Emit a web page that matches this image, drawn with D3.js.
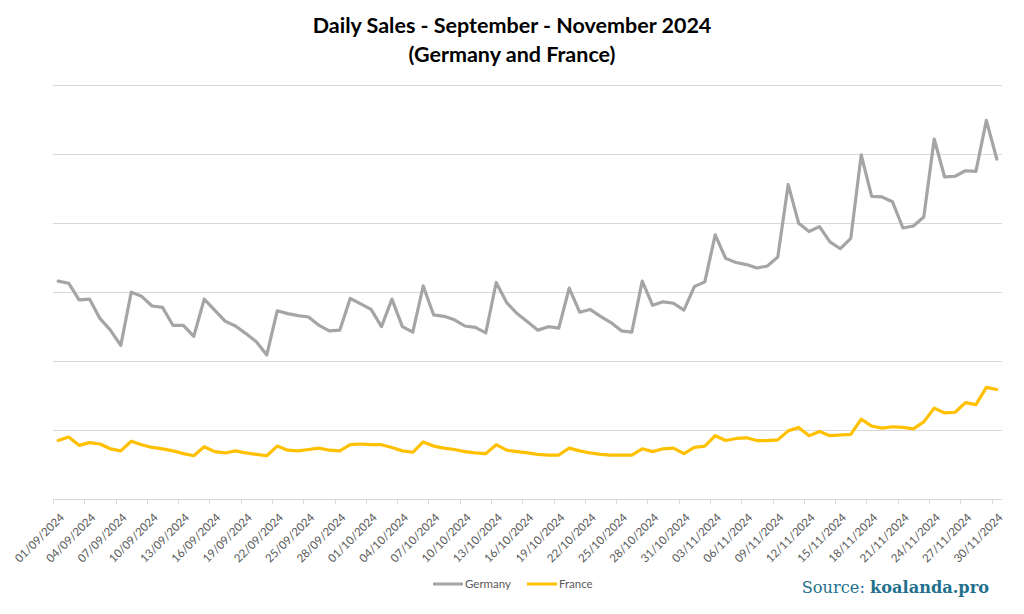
<!DOCTYPE html>
<html><head><meta charset="utf-8">
<script src="https://cdn.jsdelivr.net/npm/d3@7"></script>
<style>body{margin:0;background:#fff}svg{display:block}</style>
</head><body>
<script>
const startDate = "2024-09-01";
const dayCount = 91;
const germany = [315,312,288,289,261,244,222,299,293,279,277,251,251,235,289,273,257,250,239,227,208,272,268,265,263,251,243,244,290,282,
274,249,289,249,241,308,266,264,259,250,248,240,313,284,268,256,244,249,247,305,270,274,264,255,243,241,315,280,285,283,
273,307,314,382,348,342,339,334,337,350,455,399,387,394,372,362,377,498,438,437,430,392,395,408,521,466,467,475,474,548,492];
const france = [84,89,77,81,79,72,69,83,78,74,72,69,65,62,75,68,66,69,66,64,62,76,70,69,71,73,70,69,78,79,
78,78,74,69,67,82,76,73,71,68,66,65,78,70,68,66,64,63,63,73,69,66,64,63,63,63,72,68,72,73,
65,74,76,91,84,87,88,84,84,85,98,103,91,97,91,92,93,115,105,102,104,103,101,111,131,124,125,139,136,161,158];
const yTicks = [0,100,200,300,400,500,600];
const seriesNames = ["Germany","France"];
const seriesColors = ["#a5a5a5","#ffc000"];

const W=1024,H=614;
const svg=d3.select("body").append("svg").attr("width",W).attr("height",H);
const parse=d3.timeParse("%Y-%m-%d");
const fmt=d3.timeFormat("%d/%m/%Y");
const dates=d3.range(dayCount).map(i=>d3.timeDay.offset(parse(startDate),i));
const labels=dates.map(fmt);

const x=d3.scaleBand().domain(labels).range([53,1002]).padding(0);
const y=d3.scaleLinear().domain([0,600]).range([498.5,84.5]);
const cx=l=>x(l)+x.bandwidth()/2;

// gridlines
svg.append("g").selectAll("line").data(yTicks.slice(1)).join("line")
 .attr("x1",53).attr("x2",1002).attr("y1",d=>Math.round(y(d))+0.5).attr("y2",d=>Math.round(y(d))+0.5)
 .attr("stroke","#d9d9d9").attr("stroke-width",1);

// x axis
const tickLabels=labels.filter((d,i)=>i%3===0);
const ax=svg.append("g").attr("transform",`translate(0,${Math.round(y(0))+0.5})`);
ax.append("line").attr("x1",53).attr("x2",1002).attr("stroke","#d9d9d9");
ax.selectAll("line.t").data(d3.range(0,dayCount+1,3)).join("line").attr("class","t")
 .attr("x1",i=>Math.round(53+i*x.step())+0.5).attr("x2",i=>Math.round(53+i*x.step())+0.5)
 .attr("y1",0).attr("y2",5).attr("stroke","#d9d9d9");
ax.selectAll("text").data(tickLabels).join("text")
 .attr("transform",d=>`translate(${cx(d)+1},${13}) rotate(-45)`)
 .attr("text-anchor","end").attr("dy","0.7em")
 .attr("font-family","Lato, 'Open Sans', sans-serif").attr("font-size",11.5).attr("fill","#595959")
 .text(d=>d);

// lines
const line=d3.line().x((d,i)=>cx(labels[i])).y(d=>y(d));
[germany,france].forEach((s,k)=>{
 svg.append("path").datum(s).attr("d",line).attr("fill","none")
  .attr("stroke",seriesColors[k]).attr("stroke-width",3.2).attr("stroke-linejoin","round").attr("stroke-linecap","round");
});

// title
svg.append("text").attr("x",512).attr("y",33).attr("text-anchor","middle")
 .attr("font-family","Lato, sans-serif").attr("font-weight","bold").attr("font-size",21.5).attr("fill","#000")
 .text("Daily Sales - September - November 2024");
svg.append("text").attr("x",512).attr("y",62).attr("text-anchor","middle")
 .attr("font-family","Lato, sans-serif").attr("font-weight","bold").attr("font-size",21.5).attr("fill","#000")
 .text("(Germany and France)");

// legend
const lg=svg.append("g");
const legX=[433,527];
seriesNames.forEach((n,k)=>{
 lg.append("line").attr("x1",legX[k]).attr("x2",legX[k]+30).attr("y1",584).attr("y2",584)
  .attr("stroke",seriesColors[k]).attr("stroke-width",3);
 lg.append("text").attr("x",legX[k]+32).attr("y",588).attr("font-family","Lato, sans-serif")
  .attr("font-size",11.5).attr("fill","#595959").text(n);
});

// source
const src=svg.append("text").attr("x",989).attr("y",593).attr("text-anchor","end")
 .attr("font-family","'DejaVu Serif', serif").attr("font-size",16.2).attr("fill","#22708c");
src.append("tspan").text("Source: ");
src.append("tspan").attr("font-weight","bold").text("koalanda.pro");
</script>
</body></html>
